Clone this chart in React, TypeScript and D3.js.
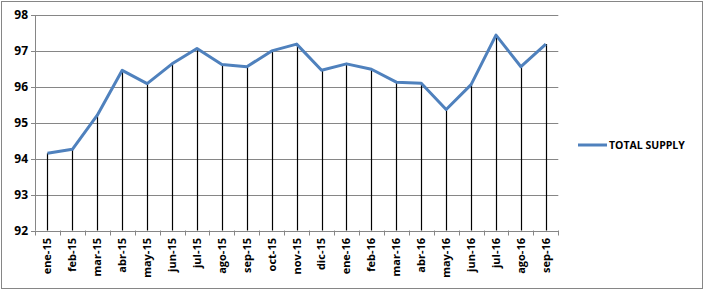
import React from 'react';
import * as d3 from 'd3';

const categories = ['ene-15','feb-15','mar-15','abr-15','may-15','jun-15','jul-15','ago-15','sep-15','oct-15','nov-15','dic-15','ene-16','feb-16','mar-16','abr-16','may-16','jun-16','jul-16','ago-16','sep-16'];
const totalSupply = [94.15,94.26,95.21,96.46,96.09,96.64,97.07,96.62,96.56,97.0,97.19,96.46,96.64,96.49,96.13,96.1,95.37,96.06,97.44,96.56,97.19];
const yTicks = [92,93,94,95,96,97,98];
const seriesName = 'TOTAL SUPPLY';

const W = 704, H = 291;
const left = 35, right = 558.3, top = 15, bottom = 230.5;

export default function App() {
  const x = d3.scaleBand<string>().domain(categories).range([left, right]);
  const y = d3.scaleLinear().domain([92, 98]).range([bottom, top]);
  const cx = (c: string) => (x(c) as number) + x.bandwidth() / 2;
  const line = d3.line<number>().x((_, i) => cx(categories[i])).y(d => y(d));
  const font = "'Open Sans', 'DejaVu Sans', sans-serif";
  const boundaries = d3.range(categories.length + 1).map(i => left + i * x.step());
  return (
    <svg width={W} height={H} style={{ position: 'absolute', left: 0, top: 0, background: '#fff' }} fontFamily={font}>
      <rect x={1.5} y={1.5} width={W - 3} height={H - 4} fill="#fff" stroke="#868686" strokeWidth={1} />
      {yTicks.map(t => (
        <g key={t}>
          <line x1={left - 4} x2={right} y1={Math.round(y(t)) + 0.5} y2={Math.round(y(t)) + 0.5} stroke="#868686" strokeWidth={1} />
          <text x={28} y={y(t)} dy="0.35em" textAnchor="end" fontSize={12} fontWeight="bold" fill="#000">{t}</text>
        </g>
      ))}
      <line x1={left + 0.5} x2={left + 0.5} y1={top} y2={bottom} stroke="#868686" />
      {boundaries.map((b, i) => (
        <line key={i} x1={Math.round(b) + 0.5} x2={Math.round(b) + 0.5} y1={bottom} y2={bottom + 5} stroke="#868686" />
      ))}
      {categories.map((c, i) => (
        <line key={c} x1={Math.round(cx(c)) + 0.5} x2={Math.round(cx(c)) + 0.5} y1={y(totalSupply[i])} y2={bottom} stroke="#000" strokeWidth={1.2} />
      ))}
      <path d={line(totalSupply) || ''} fill="none" stroke="#4F81BD" strokeWidth={3} strokeLinejoin="round" />
      {categories.map(c => (
        <text key={c} transform={`translate(${cx(c)},238) rotate(-90)`} dy="0.35em" textAnchor="end" fontSize={11} fontWeight="bold" fill="#000">{c}</text>
      ))}
      <line x1={578} x2={607} y1={145} y2={145} stroke="#4F81BD" strokeWidth={3} />
      <text x={609} y={145} dy="0.35em" fontSize={10.5} fontWeight="bold" fill="#000">{seriesName}</text>
    </svg>
  );
}
